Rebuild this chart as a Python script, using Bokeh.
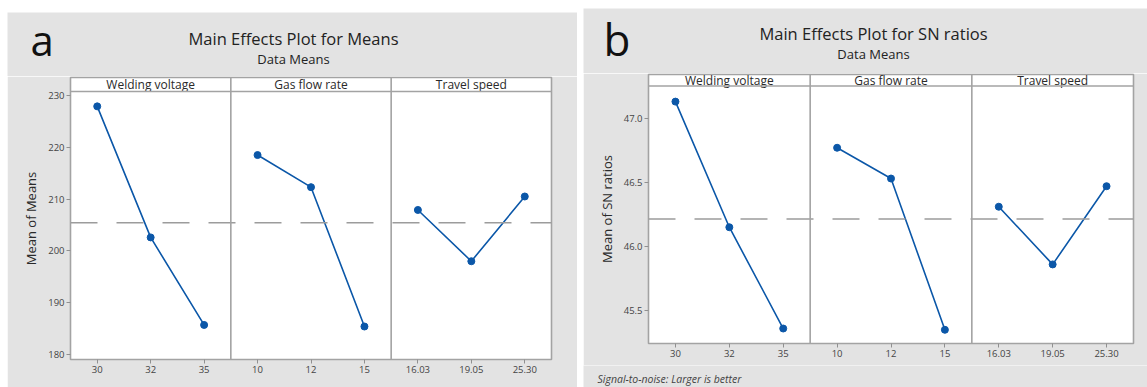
import numpy as np
from bokeh.plotting import figure
from bokeh.models import Range1d, FixedTicker, Span, ColumnDataSource
from bokeh.layouts import row, column, Spacer
from bokeh.embed import file_html
from bokeh.resources import INLINE
from bokeh.core.properties import value

# ---------------- data ----------------
factors = ["Welding voltage", "Gas flow rate", "Travel speed"]
levels_wv = ["30", "32", "35"]
levels_gf = ["10", "12", "15"]
levels_ts = ["16.03", "19.05", "25.30"]

means_wv = [227.9, 202.6, 185.7]
means_gf = [218.5, 212.3, 185.4]
means_ts = [207.9, 198.0, 210.5]

sn_wv = [47.13, 46.15, 45.36]
sn_gf = [46.77, 46.53, 45.35]
sn_ts = [46.31, 45.86, 46.47]

ticks_means = [180, 190, 200, 210, 220, 230]
ticks_sn = [45.5, 46.0, 46.5, 47.0]

title_a = "Main Effects Plot for Means"
title_b = "Main Effects Plot for SN ratios"
subtitle = "Data Means"
footnote_b = "Signal-to-noise: Larger is better"

# ---------------- style ----------------
BLUE = "#0B57A8"
GRAY_BG = "#E3E3E3"
FRAME = "#A3A3A3"
FONT = "Open Sans"
TXT = "#2a2a2a"


def build(width, height, mb, ylo, yhi, strip_frac, series, levels, yticks, ylabel, yfmt):
    ystrip = yhi + (yhi - ylo) * strip_frac
    p = figure(width=width, height=height, output_backend="svg", toolbar_location=None,
               x_range=Range1d(-0.5, 8.5), y_range=Range1d(ylo, ystrip),
               min_border_left=mb[0], min_border_right=mb[1],
               min_border_top=mb[2], min_border_bottom=mb[3])
    p.background_fill_color = "white"
    p.border_fill_color = GRAY_BG
    p.outline_line_color = FRAME
    p.outline_line_width = 1.6
    p.xgrid.visible = False
    p.ygrid.visible = False

    ally, labels = [], {}
    for k, (vals, levs) in enumerate(zip(series, levels)):
        xs = [3 * k + i for i in range(len(vals))]
        for xv, lv in zip(xs, levs):
            labels[xv] = lv
        src = ColumnDataSource(dict(x=xs, y=vals))
        p.line("x", "y", source=src, line_color=BLUE, line_width=1.6)
        p.scatter("x", "y", source=src, marker="circle", size=7,
                  fill_color=BLUE, line_color=BLUE)
        ally += list(vals)

    grand = float(np.mean(ally))
    p.add_layout(Span(location=grand, dimension="width", line_color="#9C9C9C",
                      line_width=1.6, line_dash="27 19"))
    p.add_layout(Span(location=yhi, dimension="width", line_color=FRAME, line_width=1.6))
    for k in range(1, len(series)):
        p.add_layout(Span(location=3 * k - 0.5, dimension="height",
                          line_color=FRAME, line_width=1.6))

    strip_src = ColumnDataSource(dict(x=[3 * k + 1 for k in range(len(series))],
                                      y=[(yhi + ystrip) / 2] * len(series),
                                      t=factors))
    p.text("x", "y", text="t", source=strip_src, text_align="center",
           text_baseline="middle", text_font=value(FONT), text_font_size="12px",
           text_color=TXT)

    p.xaxis.ticker = FixedTicker(ticks=sorted(labels.keys()))
    p.xaxis.major_label_overrides = {k: v for k, v in labels.items()}
    p.yaxis.ticker = FixedTicker(ticks=yticks)
    p.yaxis.major_label_overrides = {t: yfmt(t) for t in yticks}
    for ax in (p.xaxis[0], p.yaxis[0]):
        ax.axis_line_color = None
        ax.major_tick_in = 0
        ax.major_tick_out = 4
        ax.major_tick_line_color = "#909090"
        ax.minor_tick_line_color = None
        ax.major_label_text_font = FONT
        ax.major_label_text_font_size = "9.5px"
        ax.major_label_text_color = "#444444"
        ax.major_label_standoff = 2
    p.yaxis.axis_label = ylabel
    p.yaxis.axis_label_text_font = FONT
    p.yaxis.axis_label_text_font_style = "normal"
    p.yaxis.axis_label_text_font_size = "13px"
    p.yaxis.axis_label_text_color = TXT
    p.yaxis.axis_label_standoff = 5
    return p


def text_band(width, height, items):
    """A plain gray band whose frame fills it; items = (x, y, text, size, align, baseline, style, color)
    with x, y in pixels from the band's top-left corner."""
    p = figure(width=width, height=height, output_backend="svg", toolbar_location=None,
               x_range=Range1d(0, width), y_range=Range1d(height, 0),
               x_axis_type=None, y_axis_type=None, min_border=0)
    p.background_fill_color = GRAY_BG
    p.border_fill_color = GRAY_BG
    p.outline_line_color = None
    p.xgrid.visible = False
    p.ygrid.visible = False
    for (x, y, t, size, align, base, style, color) in items:
        p.text(x=[x], y=[y], text=[t], text_font=value(FONT), text_font_size=size,
               text_align=align, text_baseline=base, text_font_style=style,
               text_color=color)
    return p


# ---- chart a (page: left 7, top 12, width 570, height 375) ----
head_a = text_band(570, 64, [
    (286, 26, title_a, "16.5px", "center", "middle", "normal", "#222222"),
    (286, 46, subtitle, "13px", "center", "middle", "normal", "#222222"),
    (23, 27, "a", "42px", "left", "middle", "normal", "#111111"),
])
fa = build(570, 311, (63, 26, 1, 28), 179.03, 230.77, 14 / 268,
           [means_wv, means_gf, means_ts], [levels_wv, levels_gf, levels_ts],
           ticks_means, "Mean of Means", lambda t: "%d" % t)

# ---- chart b (page: left 583, top 8, width 564, height 379) ----
head_b = text_band(564, 65, [
    (290, 25, title_b, "16.5px", "center", "middle", "normal", "#222222"),
    (290, 45, subtitle, "13px", "center", "middle", "normal", "#222222"),
    (20, 30, "b", "44px", "left", "middle", "normal", "#111111"),
])
fb = build(564, 292, (65, 14, 1, 22), 45.243, 47.252, 11.5 / 258,
           [sn_wv, sn_gf, sn_ts], [levels_wv, levels_gf, levels_ts],
           ticks_sn, "Mean of SN ratios", lambda t: "%.1f" % t)
foot_b = text_band(564, 22, [
    (14, 13, footnote_b, "10.5px", "left", "middle", "italic", "#444444"),
])

layout = row(Spacer(width=7),
             column(Spacer(height=12), row(head_a), fa),
             Spacer(width=6),
             column(Spacer(height=8), row(head_b), fb, row(foot_b)))

open("out.html", "w").write(file_html(layout, INLINE))
